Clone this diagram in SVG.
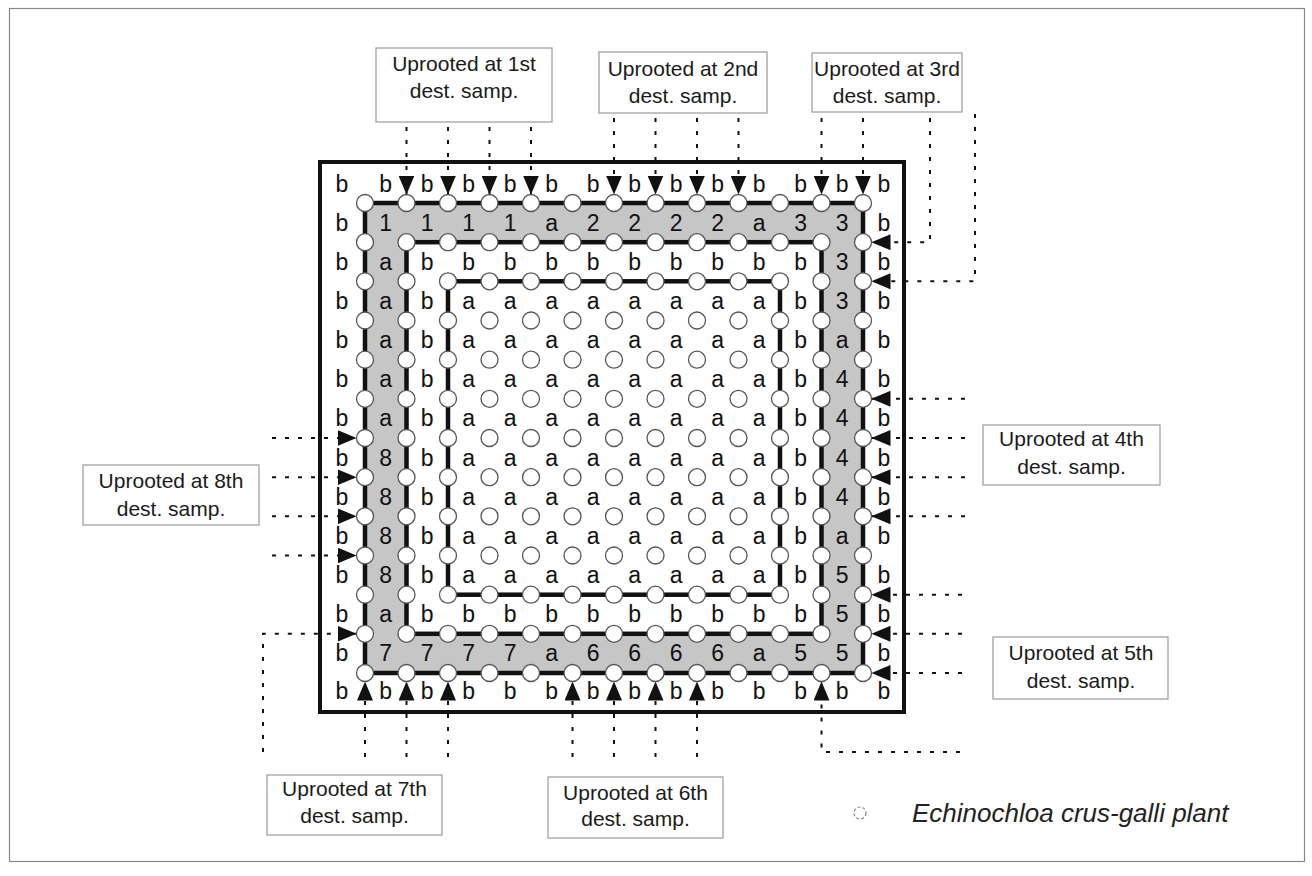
<svg xmlns="http://www.w3.org/2000/svg" xmlns:xlink="http://www.w3.org/1999/xlink" width="1312" height="876" viewBox="0 0 1312 876">
<defs>
<style>
.lt{font-family:"Liberation Sans",Arial,sans-serif;font-size:23px;text-anchor:middle;fill:#111}
.lb{font-family:"Liberation Sans",Arial,sans-serif;font-size:21px;text-anchor:middle;fill:#1a1a1a}
.box{fill:#fff;stroke:#9a9a9a;stroke-width:1.2}
.thick{fill:none;stroke:#111;stroke-width:4.5}
.dot{fill:none;stroke:#111;stroke-width:2;stroke-dasharray:4 9}
.pl{fill:#fff;stroke:#555;stroke-width:1.3}
</style>
<marker id="ah" viewBox="0 0 19 16" refX="19" refY="8" markerWidth="19" markerHeight="16" markerUnits="userSpaceOnUse" orient="auto"><path d="M0,0 L19,8 L0,16 Z" fill="#111"/></marker>
<circle id="p" r="8.5" class="pl"/>
</defs>
<rect width="1312" height="876" fill="#fff"/>
<rect x="9.5" y="8.5" width="1295" height="853" fill="none" stroke="#888" stroke-width="1.2"/>

<g id="plot">
<rect x="320" y="162" width="584" height="550" fill="none" stroke="#111" stroke-width="4"/>
<path d="M365,203H863V673H365Z M406.5,242.2H821.5V633.8H406.5Z" fill="#c6c6c6" fill-rule="evenodd"/>
<rect class="thick" x="365" y="203" width="498" height="470"/>
<rect class="thick" x="406.5" y="242.2" width="415" height="391.6"/>
<rect class="thick" x="448" y="281.3" width="332" height="313.4"/>
</g>

<g id="connectors">
<path class="dot" d="M406.5,127V194.5" marker-end="url(#ah)"/>
<path class="dot" d="M448,127V194.5" marker-end="url(#ah)"/>
<path class="dot" d="M489.5,127V194.5" marker-end="url(#ah)"/>
<path class="dot" d="M531,127V194.5" marker-end="url(#ah)"/>
<path class="dot" d="M614,118V194.5" marker-end="url(#ah)"/>
<path class="dot" d="M655.5,118V194.5" marker-end="url(#ah)"/>
<path class="dot" d="M697,118V194.5" marker-end="url(#ah)"/>
<path class="dot" d="M738.5,118V194.5" marker-end="url(#ah)"/>
<path class="dot" d="M821.5,118V194.5" marker-end="url(#ah)"/>
<path class="dot" d="M863,118V194.5" marker-end="url(#ah)"/>
<path class="dot" d="M930,118V242.2H871.5" marker-end="url(#ah)"/>
<path class="dot" d="M975,114V281.3H871.5" marker-end="url(#ah)"/>
<path class="dot" d="M965,398.8H871.5" marker-end="url(#ah)"/>
<path class="dot" d="M965,438H871.5" marker-end="url(#ah)"/>
<path class="dot" d="M965,477.2H871.5" marker-end="url(#ah)"/>
<path class="dot" d="M965,516.3H871.5" marker-end="url(#ah)"/>
<path class="dot" d="M962,594.7H871.5" marker-end="url(#ah)"/>
<path class="dot" d="M962,633.8H871.5" marker-end="url(#ah)"/>
<path class="dot" d="M962,673H871.5" marker-end="url(#ah)"/>
<path class="dot" d="M960,752H821.5V681.5" marker-end="url(#ah)"/>
<path class="dot" d="M365,757V681.5" marker-end="url(#ah)"/>
<path class="dot" d="M406.5,757V681.5" marker-end="url(#ah)"/>
<path class="dot" d="M448,757V681.5" marker-end="url(#ah)"/>
<path class="dot" d="M572.5,757V681.5" marker-end="url(#ah)"/>
<path class="dot" d="M614,757V681.5" marker-end="url(#ah)"/>
<path class="dot" d="M655.5,757V681.5" marker-end="url(#ah)"/>
<path class="dot" d="M697,757V681.5" marker-end="url(#ah)"/>
<path class="dot" d="M272,438H356.5" marker-end="url(#ah)"/>
<path class="dot" d="M272,477.2H356.5" marker-end="url(#ah)"/>
<path class="dot" d="M272,516.3H356.5" marker-end="url(#ah)"/>
<path class="dot" d="M272,555.5H356.5" marker-end="url(#ah)"/>
<path class="dot" d="M263,752V633.8H356.5" marker-end="url(#ah)"/>
</g>

<g id="plants">
<g transform="translate(0,203)"><use href="#p" x="365"/><use href="#p" x="406.5"/><use href="#p" x="448"/><use href="#p" x="489.5"/><use href="#p" x="531"/><use href="#p" x="572.5"/><use href="#p" x="614"/><use href="#p" x="655.5"/><use href="#p" x="697"/><use href="#p" x="738.5"/><use href="#p" x="780"/><use href="#p" x="821.5"/><use href="#p" x="863"/></g>
<g transform="translate(0,242.2)"><use href="#p" x="365"/><use href="#p" x="406.5"/><use href="#p" x="448"/><use href="#p" x="489.5"/><use href="#p" x="531"/><use href="#p" x="572.5"/><use href="#p" x="614"/><use href="#p" x="655.5"/><use href="#p" x="697"/><use href="#p" x="738.5"/><use href="#p" x="780"/><use href="#p" x="821.5"/><use href="#p" x="863"/></g>
<g transform="translate(0,281.3)"><use href="#p" x="365"/><use href="#p" x="406.5"/><use href="#p" x="448"/><use href="#p" x="489.5"/><use href="#p" x="531"/><use href="#p" x="572.5"/><use href="#p" x="614"/><use href="#p" x="655.5"/><use href="#p" x="697"/><use href="#p" x="738.5"/><use href="#p" x="780"/><use href="#p" x="821.5"/><use href="#p" x="863"/></g>
<g transform="translate(0,320.5)"><use href="#p" x="365"/><use href="#p" x="406.5"/><use href="#p" x="448"/><use href="#p" x="489.5"/><use href="#p" x="531"/><use href="#p" x="572.5"/><use href="#p" x="614"/><use href="#p" x="655.5"/><use href="#p" x="697"/><use href="#p" x="738.5"/><use href="#p" x="780"/><use href="#p" x="821.5"/><use href="#p" x="863"/></g>
<g transform="translate(0,359.7)"><use href="#p" x="365"/><use href="#p" x="406.5"/><use href="#p" x="448"/><use href="#p" x="489.5"/><use href="#p" x="531"/><use href="#p" x="572.5"/><use href="#p" x="614"/><use href="#p" x="655.5"/><use href="#p" x="697"/><use href="#p" x="738.5"/><use href="#p" x="780"/><use href="#p" x="821.5"/><use href="#p" x="863"/></g>
<g transform="translate(0,398.8)"><use href="#p" x="365"/><use href="#p" x="406.5"/><use href="#p" x="448"/><use href="#p" x="489.5"/><use href="#p" x="531"/><use href="#p" x="572.5"/><use href="#p" x="614"/><use href="#p" x="655.5"/><use href="#p" x="697"/><use href="#p" x="738.5"/><use href="#p" x="780"/><use href="#p" x="821.5"/><use href="#p" x="863"/></g>
<g transform="translate(0,438)"><use href="#p" x="365"/><use href="#p" x="406.5"/><use href="#p" x="448"/><use href="#p" x="489.5"/><use href="#p" x="531"/><use href="#p" x="572.5"/><use href="#p" x="614"/><use href="#p" x="655.5"/><use href="#p" x="697"/><use href="#p" x="738.5"/><use href="#p" x="780"/><use href="#p" x="821.5"/><use href="#p" x="863"/></g>
<g transform="translate(0,477.2)"><use href="#p" x="365"/><use href="#p" x="406.5"/><use href="#p" x="448"/><use href="#p" x="489.5"/><use href="#p" x="531"/><use href="#p" x="572.5"/><use href="#p" x="614"/><use href="#p" x="655.5"/><use href="#p" x="697"/><use href="#p" x="738.5"/><use href="#p" x="780"/><use href="#p" x="821.5"/><use href="#p" x="863"/></g>
<g transform="translate(0,516.3)"><use href="#p" x="365"/><use href="#p" x="406.5"/><use href="#p" x="448"/><use href="#p" x="489.5"/><use href="#p" x="531"/><use href="#p" x="572.5"/><use href="#p" x="614"/><use href="#p" x="655.5"/><use href="#p" x="697"/><use href="#p" x="738.5"/><use href="#p" x="780"/><use href="#p" x="821.5"/><use href="#p" x="863"/></g>
<g transform="translate(0,555.5)"><use href="#p" x="365"/><use href="#p" x="406.5"/><use href="#p" x="448"/><use href="#p" x="489.5"/><use href="#p" x="531"/><use href="#p" x="572.5"/><use href="#p" x="614"/><use href="#p" x="655.5"/><use href="#p" x="697"/><use href="#p" x="738.5"/><use href="#p" x="780"/><use href="#p" x="821.5"/><use href="#p" x="863"/></g>
<g transform="translate(0,594.7)"><use href="#p" x="365"/><use href="#p" x="406.5"/><use href="#p" x="448"/><use href="#p" x="489.5"/><use href="#p" x="531"/><use href="#p" x="572.5"/><use href="#p" x="614"/><use href="#p" x="655.5"/><use href="#p" x="697"/><use href="#p" x="738.5"/><use href="#p" x="780"/><use href="#p" x="821.5"/><use href="#p" x="863"/></g>
<g transform="translate(0,633.8)"><use href="#p" x="365"/><use href="#p" x="406.5"/><use href="#p" x="448"/><use href="#p" x="489.5"/><use href="#p" x="531"/><use href="#p" x="572.5"/><use href="#p" x="614"/><use href="#p" x="655.5"/><use href="#p" x="697"/><use href="#p" x="738.5"/><use href="#p" x="780"/><use href="#p" x="821.5"/><use href="#p" x="863"/></g>
<g transform="translate(0,673)"><use href="#p" x="365"/><use href="#p" x="406.5"/><use href="#p" x="448"/><use href="#p" x="489.5"/><use href="#p" x="531"/><use href="#p" x="572.5"/><use href="#p" x="614"/><use href="#p" x="655.5"/><use href="#p" x="697"/><use href="#p" x="738.5"/><use href="#p" x="780"/><use href="#p" x="821.5"/><use href="#p" x="863"/></g>
</g>

<g id="cells" class="lt">
<g transform="translate(0,192)"><text x="342">b</text><text x="385.75">b</text><text x="427.25">b</text><text x="468.75">b</text><text x="510.25">b</text><text x="551.75">b</text><text x="593.25">b</text><text x="634.75">b</text><text x="676.25">b</text><text x="717.75">b</text><text x="759.25">b</text><text x="800.75">b</text><text x="842.25">b</text><text x="884">b</text></g>
<g transform="translate(0,230.6)"><text x="342">b</text><text x="385.75">1</text><text x="427.25">1</text><text x="468.75">1</text><text x="510.25">1</text><text x="551.75">a</text><text x="593.25">2</text><text x="634.75">2</text><text x="676.25">2</text><text x="717.75">2</text><text x="759.25">a</text><text x="800.75">3</text><text x="842.25">3</text><text x="884">b</text></g>
<g transform="translate(0,269.8)"><text x="342">b</text><text x="385.75">a</text><text x="427.25">b</text><text x="468.75">b</text><text x="510.25">b</text><text x="551.75">b</text><text x="593.25">b</text><text x="634.75">b</text><text x="676.25">b</text><text x="717.75">b</text><text x="759.25">b</text><text x="800.75">b</text><text x="842.25">3</text><text x="884">b</text></g>
<g transform="translate(0,308.9)"><text x="342">b</text><text x="385.75">a</text><text x="427.25">b</text><text x="468.75">a</text><text x="510.25">a</text><text x="551.75">a</text><text x="593.25">a</text><text x="634.75">a</text><text x="676.25">a</text><text x="717.75">a</text><text x="759.25">a</text><text x="800.75">b</text><text x="842.25">3</text><text x="884">b</text></g>
<g transform="translate(0,348.1)"><text x="342">b</text><text x="385.75">a</text><text x="427.25">b</text><text x="468.75">a</text><text x="510.25">a</text><text x="551.75">a</text><text x="593.25">a</text><text x="634.75">a</text><text x="676.25">a</text><text x="717.75">a</text><text x="759.25">a</text><text x="800.75">b</text><text x="842.25">a</text><text x="884">b</text></g>
<g transform="translate(0,387.3)"><text x="342">b</text><text x="385.75">a</text><text x="427.25">b</text><text x="468.75">a</text><text x="510.25">a</text><text x="551.75">a</text><text x="593.25">a</text><text x="634.75">a</text><text x="676.25">a</text><text x="717.75">a</text><text x="759.25">a</text><text x="800.75">b</text><text x="842.25">4</text><text x="884">b</text></g>
<g transform="translate(0,426.4)"><text x="342">b</text><text x="385.75">a</text><text x="427.25">b</text><text x="468.75">a</text><text x="510.25">a</text><text x="551.75">a</text><text x="593.25">a</text><text x="634.75">a</text><text x="676.25">a</text><text x="717.75">a</text><text x="759.25">a</text><text x="800.75">b</text><text x="842.25">4</text><text x="884">b</text></g>
<g transform="translate(0,465.6)"><text x="342">b</text><text x="385.75">8</text><text x="427.25">b</text><text x="468.75">a</text><text x="510.25">a</text><text x="551.75">a</text><text x="593.25">a</text><text x="634.75">a</text><text x="676.25">a</text><text x="717.75">a</text><text x="759.25">a</text><text x="800.75">b</text><text x="842.25">4</text><text x="884">b</text></g>
<g transform="translate(0,504.8)"><text x="342">b</text><text x="385.75">8</text><text x="427.25">b</text><text x="468.75">a</text><text x="510.25">a</text><text x="551.75">a</text><text x="593.25">a</text><text x="634.75">a</text><text x="676.25">a</text><text x="717.75">a</text><text x="759.25">a</text><text x="800.75">b</text><text x="842.25">4</text><text x="884">b</text></g>
<g transform="translate(0,543.9)"><text x="342">b</text><text x="385.75">8</text><text x="427.25">b</text><text x="468.75">a</text><text x="510.25">a</text><text x="551.75">a</text><text x="593.25">a</text><text x="634.75">a</text><text x="676.25">a</text><text x="717.75">a</text><text x="759.25">a</text><text x="800.75">b</text><text x="842.25">a</text><text x="884">b</text></g>
<g transform="translate(0,583.1)"><text x="342">b</text><text x="385.75">8</text><text x="427.25">b</text><text x="468.75">a</text><text x="510.25">a</text><text x="551.75">a</text><text x="593.25">a</text><text x="634.75">a</text><text x="676.25">a</text><text x="717.75">a</text><text x="759.25">a</text><text x="800.75">b</text><text x="842.25">5</text><text x="884">b</text></g>
<g transform="translate(0,622.3)"><text x="342">b</text><text x="385.75">a</text><text x="427.25">b</text><text x="468.75">b</text><text x="510.25">b</text><text x="551.75">b</text><text x="593.25">b</text><text x="634.75">b</text><text x="676.25">b</text><text x="717.75">b</text><text x="759.25">b</text><text x="800.75">b</text><text x="842.25">5</text><text x="884">b</text></g>
<g transform="translate(0,661.4)"><text x="342">b</text><text x="385.75">7</text><text x="427.25">7</text><text x="468.75">7</text><text x="510.25">7</text><text x="551.75">a</text><text x="593.25">6</text><text x="634.75">6</text><text x="676.25">6</text><text x="717.75">6</text><text x="759.25">a</text><text x="800.75">5</text><text x="842.25">5</text><text x="884">b</text></g>
<g transform="translate(0,699)"><text x="342">b</text><text x="385.75">b</text><text x="427.25">b</text><text x="468.75">b</text><text x="510.25">b</text><text x="551.75">b</text><text x="593.25">b</text><text x="634.75">b</text><text x="676.25">b</text><text x="717.75">b</text><text x="759.25">b</text><text x="800.75">b</text><text x="842.25">b</text><text x="884">b</text></g>
</g>

<g id="label1"><rect class="box" x="376" y="48" width="176" height="74"/><text class="lb" x="464" y="70.5">Uprooted at 1st</text><text class="lb" x="464" y="98">dest. samp.</text></g>
<g id="label2"><rect class="box" x="599" y="52" width="168" height="61"/><text class="lb" x="683" y="75.5">Uprooted at 2nd</text><text class="lb" x="683" y="103">dest. samp.</text></g>
<g id="label3"><rect class="box" x="812" y="53" width="150" height="59"/><text class="lb" x="887" y="75.5">Uprooted at 3rd</text><text class="lb" x="887" y="103">dest. samp.</text></g>
<g id="label4"><rect class="box" x="983" y="425" width="177" height="60"/><text class="lb" x="1071.5" y="445.5">Uprooted at 4th</text><text class="lb" x="1071.5" y="473.5">dest. samp.</text></g>
<g id="label5"><rect class="box" x="993" y="637" width="175" height="62"/><text class="lb" x="1081" y="659.5">Uprooted at 5th</text><text class="lb" x="1081" y="688">dest. samp.</text></g>
<g id="label6"><rect class="box" x="548" y="777" width="175" height="61"/><text class="lb" x="635.5" y="799.5">Uprooted at 6th</text><text class="lb" x="635.5" y="825.5">dest. samp.</text></g>
<g id="label7"><rect class="box" x="267" y="775" width="175" height="60"/><text class="lb" x="354.5" y="795.5">Uprooted at 7th</text><text class="lb" x="354.5" y="822.5">dest. samp.</text></g>
<g id="label8"><rect class="box" x="83" y="465" width="176" height="60"/><text class="lb" x="171" y="487.5">Uprooted at 8th</text><text class="lb" x="171" y="515.5">dest. samp.</text></g>

<g id="legend"><circle cx="860" cy="813" r="6" fill="#fff" stroke="#888" stroke-width="1.2" stroke-dasharray="3 2"/><text x="912" y="822" fill="#222" style="font-family:'Liberation Sans',Arial,sans-serif;font-size:26px;font-style:italic">Echinochloa crus-galli plant</text></g>
</svg>
